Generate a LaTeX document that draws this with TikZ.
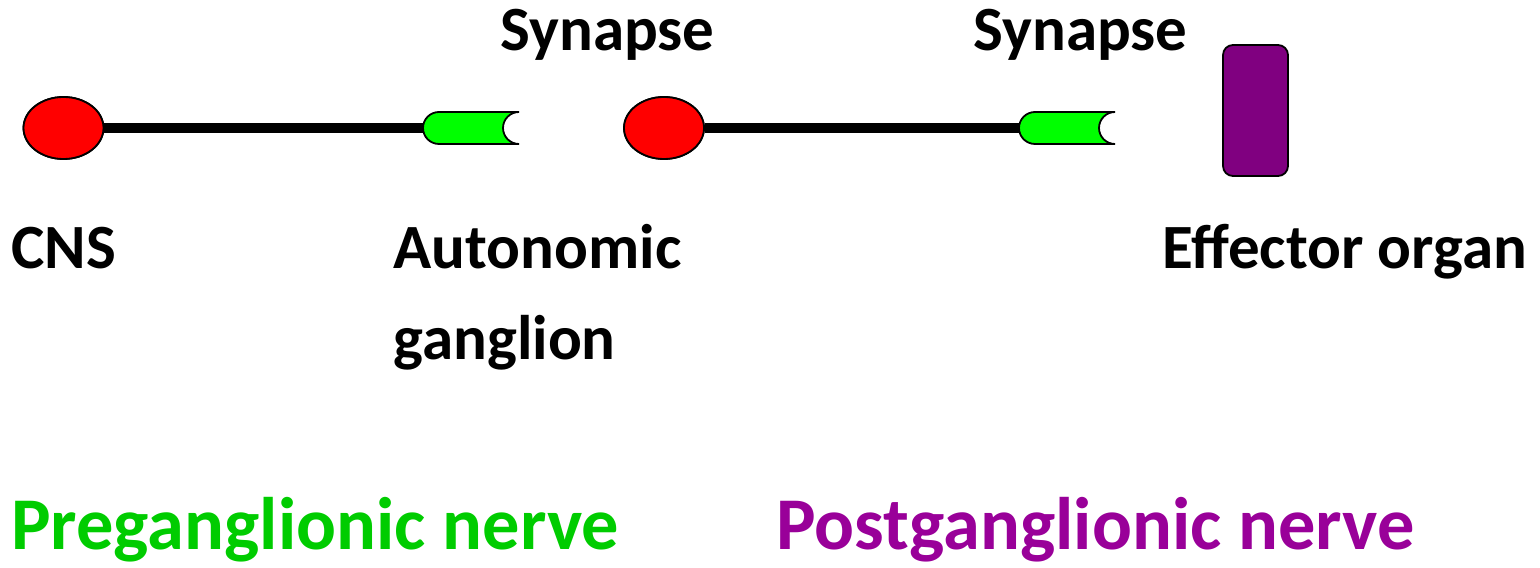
\documentclass[tikz,border=0pt]{standalone}
\usepackage{fontspec}
\setmainfont{Carlito}
\usetikzlibrary{shapes.geometric}
\definecolor{cellred}{RGB}{255,0,0}
\definecolor{termgreen}{RGB}{0,255,0}
\definecolor{organpurple}{RGB}{128,0,128}
\definecolor{pregreen}{RGB}{0,204,0}
\definecolor{postpurple}{RGB}{153,0,153}
\tikzset{
  soma/.style={ellipse, draw=black, line width=0.9pt, fill=cellred, minimum width=40pt, minimum height=31pt, inner sep=0pt},
  axon/.style={line width=5pt, draw=black},
  lbl/.style={anchor=base west, inner sep=0pt, font=\fontsize{31.5pt}{45pt}\selectfont\bfseries},
  biglbl/.style={anchor=base west, inner sep=0pt, font=\fontsize{37.2pt}{44pt}\selectfont\bfseries},
  organbox/.style={draw=black, line width=0.9pt, fill=organpurple, rounded corners=5pt, minimum width=32.5pt, minimum height=65.5pt, inner sep=0pt},
  terminal/.pic={
    \path[fill=termgreen, draw=black, line width=0.9pt]
      (96,16) -- (16,16) arc (90:270:16) -- (96,-16) arc (270:90:16) -- cycle;
  }
}
\begin{document}
\begin{tikzpicture}[x=0.5pt, y=0.5pt]
\useasboundingbox (0,0) rectangle (1540,567);
% cells
\node[soma] (cns) at (63.5,439) {};
\node[soma] (gang) at (664,439) {};
\coordinate (t1) at (424,439);
\coordinate (t2) at (1020,439);
\draw[axon] (cns.east) -- (t1);
\draw[axon] (gang.east) -- (t2);
\node[soma] at (cns) {};
\node[soma] at (gang) {};
\pic at (423,439) {terminal};
\pic at (1019,439) {terminal};
\node[organbox] (organ) at (1255.5,456.5) {};
% labels
\node[lbl] (syn1) at (500,516) {Synapse};
\node[lbl] (syn2) at (973,516) {Synapse};
\node[lbl] (cnsl) at (11,298) {CNS};
\node[lbl] (autl) at (393,298) {Autonomic};
\node[lbl] (gangl) at (393,207) {ganglion};
\node[lbl] (effl) at (1162,298) {Effector organ};
\node[biglbl, text=pregreen] (pre) at (11,18) {Preganglionic nerve};
\node[biglbl, text=postpurple] (post) at (776,18) {Postganglionic nerve};
\end{tikzpicture}
\end{document}
